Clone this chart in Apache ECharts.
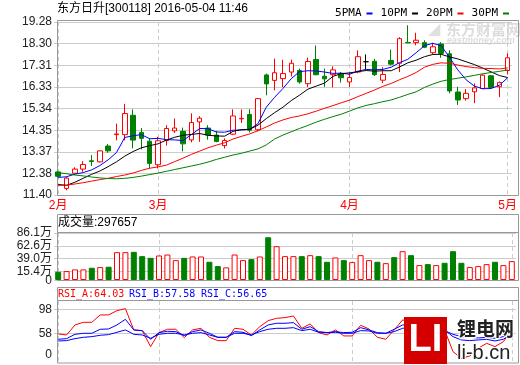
<!DOCTYPE html>
<html><head><meta charset="utf-8">
<script src="https://cdn.jsdelivr.net/npm/echarts@6/dist/echarts.min.js"></script>
<style>html,body{margin:0;padding:0;background:#fff}#c{width:520px;height:365px}</style>
</head><body><div id="c"></div>
<script>
// ---------------- data ----------------
const dates = [
 '2016-02-05','2016-02-15','2016-02-16','2016-02-17','2016-02-18','2016-02-19','2016-02-22','2016-02-23','2016-02-24','2016-02-25','2016-02-26','2016-02-29',
 '2016-03-01','2016-03-02','2016-03-03','2016-03-04','2016-03-07','2016-03-08','2016-03-09','2016-03-10','2016-03-11','2016-03-14','2016-03-15','2016-03-16','2016-03-17','2016-03-18','2016-03-21','2016-03-22','2016-03-23','2016-03-24','2016-03-25','2016-03-28','2016-03-29','2016-03-30','2016-03-31',
 '2016-04-01','2016-04-05','2016-04-06','2016-04-07','2016-04-08','2016-04-11','2016-04-12','2016-04-13','2016-04-14','2016-04-15','2016-04-18','2016-04-19','2016-04-20','2016-04-21','2016-04-22','2016-04-25','2016-04-26','2016-04-27','2016-04-28',
 '2016-05-04'];
const openP  = [12.45,11.70,12.39,12.58,12.96,12.91,13.63,14.15,14.15,15.03,14.25,13.85,12.78,13.88,14.32,14.30,13.91,14.73,14.45,14.13,13.65,14.17,14.87,15.07,14.37,16.87,16.62,16.70,17.00,17.07,16.47,17.57,16.81,16.88,16.92,16.55,17.00,17.47,17.49,16.63,17.53,17.40,18.35,18.34,18.34,17.88,18.28,17.83,16.09,15.79,16.10,16.25,16.83,16.33,17.07];
const closeP = [12.25,12.17,12.58,12.79,12.93,13.41,13.41,14.18,15.11,13.90,13.98,12.84,13.87,14.43,14.45,13.73,14.70,14.90,14.13,13.84,13.88,15.00,14.89,14.35,15.79,16.46,16.97,16.93,17.40,16.55,17.48,16.88,16.69,17.10,16.74,16.75,17.70,17.47,16.88,16.89,17.36,18.52,18.33,18.45,18.13,18.15,17.85,16.14,15.73,16.03,16.28,16.86,16.30,16.52,17.65];
const lowP   = [12.20,11.61,12.31,12.46,12.72,12.88,13.32,13.89,13.89,13.52,13.48,12.61,12.61,13.65,14.22,13.39,13.80,13.82,13.92,13.80,13.52,14.13,14.68,14.25,14.30,15.94,16.17,16.32,16.80,16.47,16.32,16.85,16.33,16.30,16.52,16.32,16.95,17.12,16.82,16.50,17.30,17.00,18.33,18.22,18.09,17.80,17.65,16.03,15.50,15.70,15.58,16.22,16.27,15.86,16.90];
const highP  = [12.50,12.24,12.66,12.94,13.22,13.44,13.72,14.65,15.55,15.30,14.45,13.98,14.05,14.58,14.88,14.47,15.12,14.99,14.58,14.32,13.98,15.30,15.30,15.31,15.82,16.93,17.61,17.56,17.57,17.16,17.66,18.21,17.16,17.26,17.00,17.00,17.99,17.80,17.60,17.22,18.02,18.59,19.13,18.79,18.45,18.33,18.36,17.99,16.33,16.22,16.48,16.90,16.87,16.57,17.85];
const ma5  = [12.20,12.23,12.35,12.42,12.54,12.74,13.00,13.33,14.02,14.10,14.15,13.96,13.98,13.92,13.91,13.88,14.15,14.43,14.42,14.27,14.26,14.35,14.36,14.39,14.65,15.40,15.85,16.25,16.70,17.02,17.06,17.05,17.00,16.94,16.95,16.90,17.04,17.12,17.10,17.12,17.22,17.43,17.58,17.88,18.20,18.31,18.20,17.68,17.10,16.65,16.36,16.24,16.25,16.40,16.74];
const ma10 = [11.88,11.84,11.98,12.16,12.34,12.49,12.69,12.91,13.17,13.38,13.55,13.65,13.73,13.90,14.03,14.12,14.16,14.20,14.12,14.09,14.08,14.30,14.38,14.39,14.58,14.88,15.15,15.40,15.70,15.95,16.22,16.36,16.50,16.80,16.93,16.96,17.02,17.07,17.04,17.06,17.06,17.23,17.42,17.54,17.70,17.80,17.81,17.69,17.60,17.47,17.34,17.18,17.01,16.84,16.75];
const ma20 = [11.84,11.85,11.90,11.96,12.03,12.10,12.16,12.24,12.31,12.40,12.52,12.62,12.68,12.76,12.92,13.08,13.25,13.40,13.55,13.67,13.78,13.95,14.07,14.18,14.33,14.50,14.68,14.82,14.93,15.00,15.10,15.22,15.35,15.47,15.60,15.72,15.88,16.03,16.18,16.35,16.48,16.65,16.80,16.98,17.22,17.35,17.42,17.40,17.32,17.25,17.20,17.17,17.16,17.14,17.19];
const ma30 = [12.42,12.37,12.31,12.27,12.22,12.18,12.15,12.14,12.16,12.20,12.26,12.33,12.40,12.48,12.56,12.64,12.72,12.80,12.90,13.02,13.12,13.22,13.30,13.40,13.50,13.68,13.95,14.13,14.28,14.43,14.57,14.72,14.85,14.97,15.08,15.22,15.37,15.48,15.56,15.65,15.73,15.85,15.98,16.10,16.30,16.45,16.58,16.66,16.72,16.78,16.85,16.92,16.98,17.03,17.10];
const volume = [15.1,16.4,19.4,19.4,22.4,23.7,24.3,51.0,51.0,51.6,43.7,40.6,44.9,46.7,36.4,40.6,43.1,43.1,33.4,25.5,23.1,46.7,36.4,38.2,43.1,78.3,61.9,43.7,43.7,43.7,45.5,43.7,33.4,41.3,36.4,32.8,45.5,36.4,33.4,30.9,41.9,52.8,45.5,27.3,29.1,27.3,31.5,52.8,31.5,23.7,25.5,29.1,33.4,27.3,34.6];
const rsiA = [56.9,55.2,71.9,76.3,76.3,88.6,88.6,95.8,99.0,63.6,62.4,35.8,59.1,64.7,64.7,50.8,63.6,66.3,51.3,45.8,45.8,66.3,64.7,55.2,69.1,79.1,83.0,84.1,86.9,66.3,73.6,59.1,55.2,63.6,53.6,53.6,71.3,65.2,51.3,48.0,63.6,80.2,77.4,75.8,66.3,69.1,63.6,27.4,16.3,20.2,33.0,41.3,35.8,44.1,64.03];
const rsiB = [48.0,49.1,56.3,58.0,58.0,64.7,65.2,71.9,81.3,63.6,62.4,48.0,59.1,61.3,60.8,54.1,60.8,63.6,58.0,51.3,51.3,60.8,59.7,54.1,63.6,71.9,74.7,74.7,75.8,64.7,69.1,60.8,59.1,60.8,59.1,59.7,67.4,63.6,59.1,58.0,64.7,71.9,71.9,70.2,66.3,66.3,63.6,52.4,46.9,45.8,46.9,48.0,45.2,48.0,57.58];
const rsiC = [45.2,45.8,49.1,51.3,52.4,54.7,55.8,59.7,63.6,56.3,55.2,49.7,56.3,58.0,58.0,55.2,58.0,59.1,55.2,51.3,51.3,58.0,58.0,55.2,60.8,64.7,66.3,66.3,67.4,62.4,64.7,59.7,59.1,59.7,58.0,58.0,62.4,61.9,58.0,58.0,60.8,66.3,67.4,66.3,64.7,64.7,62.4,56.3,52.4,51.3,50.2,51.3,49.7,52.4,56.65];
const priceTicks = [11.40,12.38,13.37,14.35,15.34,16.33,17.31,18.30,19.28];
const volTicks = [0,15.4,39.0,62.6,86.1];
const rsiTicks = [58,98];
const titleText = '东方日升[300118] 2016-05-04 11:46';
const volText = '成交量:297657';
const rsiTexts = ['RSI_A:64.03','RSI_B:57.58','RSI_C:56.65'];
const legendNames = ['5PMA','10PM','20PM','30PM'];

// ---------------- chart ----------------
const NUM = "'Liberation Sans','Noto Sans CJK SC',sans-serif";
const MONO = "'DejaVu Sans Mono','Noto Sans CJK SC',monospace";
const GRID_C = '#cccccc';
const FRAME_C = '#999999';
const RED = '#ff0000', GREEN = '#008000', BLUE = '#0000ff', BLACK = '#000000';

const monthStart = (i) => i === 0 || dates[i].slice(5,7) !== dates[i-1].slice(5,7);
const candle = dates.map((d,i) => [openP[i], closeP[i], lowP[i], highP[i]]);
const volData = volume.map((v,i) => {
  const up = closeP[i] >= openP[i];
  return {value: v, itemStyle: up ? {color:'#ffffff', borderColor: RED, borderWidth: 1} : {color: GREEN, borderColor: GREEN, borderWidth: 1}};
});

const xBase = (gi, showLabel) => ({
  type: 'category', gridIndex: gi, data: dates, boundaryGap: true,
  axisLine: {show: false}, axisTick: {show: false},
  axisLabel: showLabel ? {
    show: true, interval: (idx) => monthStart(idx),
    formatter: (v) => parseInt(v.slice(5,7),10) + '月',
    color: RED, fontSize: 12, fontFamily: NUM, margin: 5
  } : {show: false},
  splitLine: {show: true, alignWithLabel: true, interval: (idx) => monthStart(idx), lineStyle: {color: GRID_C, type: [4,3], width: 1}}
});

const chart = echarts.init(document.getElementById('c'), null, {renderer: 'canvas'});
chart.setOption({
  animation: false,
  backgroundColor: '#ffffff',
  legend: {
    data: legendNames, right: 6, top: 3, align: 'right', icon: 'rect',
    itemWidth: 6, itemHeight: 2, itemGap: 8, selectedMode: false,
    textStyle: {fontSize: 11, fontFamily: MONO, color: '#000'}
  },
  grid: [
    {left: 54, right: 4, top: 22, height: 173},
    {left: 54, right: 4, top: 233, height: 47},
    {left: 54, right: 4, top: 301, height: 62}
  ],
  xAxis: [xBase(0, true), xBase(1, false), xBase(2, false)],
  yAxis: [
    {type: 'value', gridIndex: 0, min: priceTicks[0], max: priceTicks[priceTicks.length-1],
     axisLine: {show: false}, axisTick: {show: false, customValues: priceTicks},
     axisLabel: {customValues: priceTicks, formatter: (v) => v.toFixed(2), color: '#222', fontSize: 12, fontFamily: NUM, margin: 2},
     splitLine: {show: true, lineStyle: {color: GRID_C}}},
    {type: 'value', gridIndex: 1, min: 0, max: volTicks[volTicks.length-1],
     axisLine: {show: false}, axisTick: {show: false, customValues: volTicks},
     axisLabel: {customValues: volTicks.slice(1), hideOverlap: false, formatter: (v) => v.toFixed(1) + '万', color: '#222', fontSize: 12, fontFamily: NUM, margin: 2},
     splitLine: {show: true, lineStyle: {color: GRID_C}}},
    {type: 'value', gridIndex: 2, min: 8.5, max: 111.8,
     axisLine: {show: false}, axisTick: {show: false, customValues: rsiTicks},
     axisLabel: {customValues: rsiTicks, formatter: (v) => String(v), color: '#222', fontSize: 12, fontFamily: NUM, margin: 2},
     splitLine: {show: true, lineStyle: {color: GRID_C}}}
  ],
  series: [
    {type: 'candlestick', name: 'K', xAxisIndex: 0, yAxisIndex: 0, data: candle, barWidth: 5,
     itemStyle: {color: '#ffffff', color0: GREEN, borderColor: RED, borderColor0: GREEN, borderColorDoji: BLACK, borderWidth: 1}},
    {type: 'line', name: '5PMA', xAxisIndex: 0, yAxisIndex: 0, data: ma5, color: BLUE, showSymbol: false, lineStyle: {width: 1, color: BLUE}},
    {type: 'line', name: '10PM', xAxisIndex: 0, yAxisIndex: 0, data: ma10, color: BLACK, showSymbol: false, lineStyle: {width: 1, color: BLACK}},
    {type: 'line', name: '20PM', xAxisIndex: 0, yAxisIndex: 0, data: ma20, color: RED, showSymbol: false, lineStyle: {width: 1, color: RED}},
    {type: 'line', name: '30PM', xAxisIndex: 0, yAxisIndex: 0, data: ma30, color: GREEN, showSymbol: false, lineStyle: {width: 1, color: GREEN}},
    {type: 'bar', name: 'VOL', xAxisIndex: 1, yAxisIndex: 1, data: volData, barWidth: 6},
    {type: 'line', name: 'RSI_A', xAxisIndex: 2, yAxisIndex: 2, data: rsiA, color: RED, showSymbol: false, lineStyle: {width: 1, color: RED}},
    {type: 'line', name: 'RSI_B', xAxisIndex: 2, yAxisIndex: 2, data: rsiB, color: BLUE, showSymbol: false, lineStyle: {width: 1, color: BLUE}},
    {type: 'line', name: 'RSI_C', xAxisIndex: 2, yAxisIndex: 2, data: rsiC, color: BLUE, showSymbol: false, lineStyle: {width: 1, color: BLUE}}
  ],
  graphic: [
    // watermark eastmoney
    {type: 'text', z: 0, silent: true, style: {text: '东方财富网', x: 446, y: 29, font: "bold 15px 'Noto Sans CJK SC'", fill: '#dcdcdc', textVerticalAlign: 'middle'}},
    {type: 'text', z: 0, silent: true, style: {text: 'eastmoney.com', x: 447, y: 41, font: "italic bold 9px 'Liberation Sans'", fill: '#dcdcdc', textVerticalAlign: 'middle'}},
    {type: 'text', z: 0, silent: true, style: {text: '◢', x: 428, y: 30, font: "bold 16px 'DejaVu Sans'", fill: '#e0e0e0', textVerticalAlign: 'middle'}},
    // frames
    {type: 'rect', z: 1, silent: true, shape: {x: 57.5, y: 20.5, width: 461, height: 175}, style: {fill: 'none', stroke: FRAME_C, lineWidth: 1}},
    {type: 'rect', z: 1, silent: true, shape: {x: 57.5, y: 214.5, width: 461, height: 66}, style: {fill: 'none', stroke: FRAME_C, lineWidth: 1}},
    {type: 'line', z: 1, silent: true, shape: {x1: 57.5, y1: 232.5, x2: 518.5, y2: 232.5}, style: {stroke: FRAME_C, lineWidth: 1}},
    {type: 'rect', z: 1, silent: true, shape: {x: 57.5, y: 287.5, width: 461, height: 75.5}, style: {fill: 'none', stroke: FRAME_C, lineWidth: 1}},
    {type: 'line', z: 1, silent: true, shape: {x1: 57.5, y1: 300.5, x2: 518.5, y2: 300.5}, style: {stroke: FRAME_C, lineWidth: 1}},
    // texts
    {type: 'text', z: 5, silent: true, style: {text: titleText, x: 57, y: 9, font: "12px " + NUM, fill: '#000', textVerticalAlign: 'middle'}},
    {type: 'text', z: 5, silent: true, style: {text: volText, x: 58, y: 223, font: "12px " + NUM, fill: '#000', textVerticalAlign: 'middle'}},
    {type: 'text', z: 5, silent: true, style: {text: '0', x: 52, y: 281, font: "12px " + NUM, fill: '#222', textAlign: 'right', textVerticalAlign: 'middle'}},
    {type: 'text', z: 5, silent: true, style: {text: rsiTexts[0], x: 58, y: 294, font: "10px " + MONO, fill: RED, textVerticalAlign: 'middle'}},
    {type: 'text', z: 5, silent: true, style: {text: rsiTexts[1], x: 129, y: 294, font: "10px " + MONO, fill: BLUE, textVerticalAlign: 'middle'}},
    {type: 'text', z: 5, silent: true, style: {text: rsiTexts[2], x: 201, y: 294, font: "10px " + MONO, fill: BLUE, textVerticalAlign: 'middle'}},
    {type: 'text', z: 5, silent: true, style: {text: '0', x: 52, y: 355, font: "12px " + NUM, fill: '#222', textAlign: 'right', textVerticalAlign: 'middle'}},
    // li-b.cn logo
    {type: 'rect', z: 100, silent: true, shape: {x: 404, y: 317, width: 43, height: 47}, style: {fill: '#d40000'}},
    {type: 'text', z: 101, silent: true, style: {text: 'LI', x: 425.5, y: 341, font: "900 38px 'Liberation Sans'", fill: '#ffffff', textAlign: 'center', textVerticalAlign: 'middle'}},
    {type: 'text', z: 101, silent: true, style: {text: '锂电网', x: 457, y: 329, font: "bold 19px 'Noto Sans CJK SC'", fill: '#222', stroke: '#fff', lineWidth: 2, textVerticalAlign: 'middle'}},
    {type: 'text', z: 101, silent: true, style: {text: 'li-b.cn', x: 457, y: 353, font: "20px 'Liberation Sans'", fill: '#222', stroke: '#fff', lineWidth: 2, textVerticalAlign: 'middle'}}
  ]
});
</script>
</body></html>
